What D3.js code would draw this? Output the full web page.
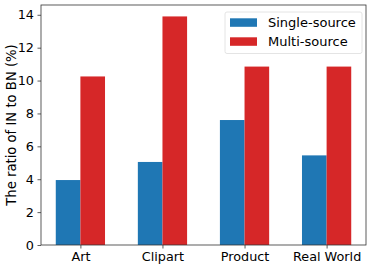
<!DOCTYPE html>
<html>
<head>
<meta charset="utf-8">
<script src="https://cdn.jsdelivr.net/npm/d3@7/dist/d3.min.js"></script>
<style>
body{margin:0;background:#fff;}
text{font-family:"DejaVu Sans",sans-serif;fill:#000;}
</style>
</head>
<body>
<div id="chart"></div>
<script>
var categories = ["Art", "Clipart", "Product", "Real World"];
var singleSource = [3.95, 5.05, 7.6, 5.45];
var multiSource = [10.25, 13.9, 10.85, 10.85];
var yTicks = [0, 2, 4, 6, 8, 10, 12, 14];
var seriesNames = ["Single-source", "Multi-source"];
var colors = ["#1f77b4", "#d62728"];

var width = 374, height = 268;
var m = {left: 41, right: 8, top: 5, bottom: 23};
var w = width - m.left - m.right, h = height - m.top - m.bottom;
var barW = 0.3;

var svg = d3.select('#chart').append('svg')
  .attr('width', width).attr('height', height);
var g = svg.append('g').attr('transform', 'translate(' + m.left + ',' + m.top + ')');

var x = d3.scaleLinear().domain([-0.48, 3.48]).range([0, w]);
var y = d3.scaleLinear().domain([0, 13.9 * 1.05]).range([h, 0]);

var series = [singleSource, multiSource];
series.forEach(function(vals, s){
  g.selectAll('rect.s' + s).data(vals).enter().append('rect')
    .attr('class', 's' + s)
    .attr('x', function(d, i){ return x(i + (s - 1) * barW); })
    .attr('width', x(barW) - x(0))
    .attr('y', function(d){ return y(d); })
    .attr('height', function(d){ return y(0) - y(d); })
    .attr('fill', colors[s]);
});

// axes
var yAxis = g.append('g').call(d3.axisLeft(y).tickValues(yTicks).tickSize(3.5).tickPadding(3.5));
var xAxis = g.append('g').attr('transform', 'translate(0,' + h + ')')
  .call(d3.axisBottom(x).tickValues(d3.range(categories.length))
    .tickFormat(function(d){ return categories[d]; }).tickSize(3.5).tickPadding(3));
[yAxis, xAxis].forEach(function(a){
  a.selectAll('text').style('font-size', '12.8px').style('font-family', '"DejaVu Sans",sans-serif').attr('fill', '#000');
  a.selectAll('line').attr('stroke', '#333').attr('stroke-width', 0.8);
  a.select('.domain').remove();
});

// frame
g.append('rect').attr('width', w).attr('height', h)
  .attr('fill', 'none').attr('stroke', '#333').attr('stroke-width', 0.8);

// y label
svg.append('text')
  .attr('transform', 'translate(16,' + (m.top + h / 2) + ') rotate(-90)')
  .attr('text-anchor', 'middle')
  .style('font-size', '13.2px')
  .text('The ratio of IN to BN (%)');

// legend
var lg = svg.append('g').attr('transform', 'translate(225,12)');
lg.append('rect').attr('width', 137).attr('height', 41.5).attr('rx', 2)
  .attr('fill', '#fff').attr('fill-opacity', 0.8).attr('stroke', '#ddd').attr('stroke-width', 0.8);
seriesNames.forEach(function(name, i){
  lg.append('rect').attr('x', 5).attr('y', 6.3 + i * 19).attr('width', 27).attr('height', 8.5).attr('fill', colors[i]);
  lg.append('text').attr('x', 43).attr('y', 15.3 + i * 19).style('font-size', '13px').text(name);
});
</script>
</body>
</html>
